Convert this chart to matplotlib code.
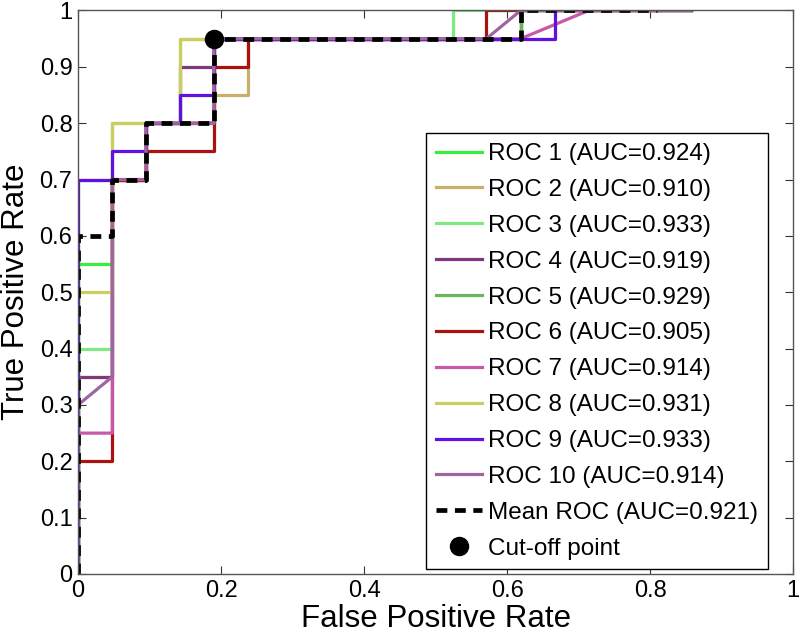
import matplotlib
matplotlib.use("Agg")
import matplotlib.pyplot as plt

plt.rcParams['font.family'] = ['Liberation Sans', 'DejaVu Sans']

# ROC curves (fpr steps of 1/21, tpr steps of 0.05)
roc1_fpr = [0, 0, 0.048, 0.048, 0.095, 0.095, 0.19, 0.19, 0.619, 0.619, 0.857]
roc1_tpr = [0, 0.55, 0.55, 0.7, 0.7, 0.8, 0.8, 0.95, 0.95, 1, 1]
roc2_fpr = [0, 0, 0.048, 0.048, 0.095, 0.095, 0.19, 0.19, 0.238, 0.238, 0.619, 0.619, 0.857]
roc2_tpr = [0, 0.35, 0.35, 0.7, 0.7, 0.8, 0.8, 0.85, 0.85, 0.95, 0.95, 1, 1]
roc3_fpr = [0, 0, 0.048, 0.048, 0.143, 0.143, 0.524, 0.524, 0.857]
roc3_tpr = [0, 0.4, 0.4, 0.8, 0.8, 0.95, 0.95, 1, 1]
roc4_fpr = [0, 0, 0.048, 0.048, 0.095, 0.095, 0.143, 0.143, 0.19, 0.19, 0.619, 0.619, 0.857]
roc4_tpr = [0, 0.35, 0.35, 0.7, 0.7, 0.8, 0.8, 0.9, 0.9, 0.95, 0.95, 1, 1]
roc5_fpr = [0, 0, 0.095, 0.095, 0.19, 0.19, 0.619, 0.619, 0.857]
roc5_tpr = [0, 0.7, 0.7, 0.8, 0.8, 0.95, 0.95, 1, 1]
roc6_fpr = [0, 0, 0.048, 0.048, 0.095, 0.095, 0.19, 0.19, 0.238, 0.238, 0.571, 0.571, 0.857]
roc6_tpr = [0, 0.2, 0.2, 0.7, 0.7, 0.75, 0.75, 0.9, 0.9, 0.95, 0.95, 1, 1]
roc7_fpr = [0, 0, 0.048, 0.048, 0.095, 0.095, 0.19, 0.19, 0.619, 0.714, 0.857]
roc7_tpr = [0, 0.25, 0.25, 0.7, 0.7, 0.8, 0.8, 0.95, 0.95, 1, 1]
roc8_fpr = [0, 0, 0.048, 0.048, 0.143, 0.143, 0.667, 0.667, 0.857]
roc8_tpr = [0, 0.5, 0.5, 0.8, 0.8, 0.95, 0.95, 1, 1]
roc9_fpr = [0, 0, 0.048, 0.048, 0.095, 0.095, 0.143, 0.143, 0.19, 0.19, 0.667, 0.667, 0.857]
roc9_tpr = [0, 0.7, 0.7, 0.75, 0.75, 0.8, 0.8, 0.85, 0.85, 0.95, 0.95, 1, 1]
roc10_fpr = [0, 0, 0.048, 0.048, 0.095, 0.095, 0.19, 0.19, 0.571, 0.619, 0.857]
roc10_tpr = [0, 0.3, 0.35, 0.7, 0.7, 0.8, 0.8, 0.95, 0.95, 1, 1]

mean_fpr = [0, 0, 0.048, 0.048, 0.095, 0.095, 0.19, 0.19, 0.619, 0.619, 0.81]
mean_tpr = [0, 0.6, 0.6, 0.7, 0.7, 0.8, 0.8, 0.95, 0.95, 1, 1]

aucs = [0.924, 0.910, 0.933, 0.919, 0.929, 0.905, 0.914, 0.931, 0.933, 0.914]
mean_auc = 0.921
cutoff_fpr = 0.19
cutoff_tpr = 0.95

curves = [(roc1_fpr, roc1_tpr), (roc2_fpr, roc2_tpr), (roc3_fpr, roc3_tpr),
          (roc4_fpr, roc4_tpr), (roc5_fpr, roc5_tpr), (roc6_fpr, roc6_tpr),
          (roc7_fpr, roc7_tpr), (roc8_fpr, roc8_tpr), (roc9_fpr, roc9_tpr),
          (roc10_fpr, roc10_tpr)]
colors = ['#3cec3c', '#c8b06c', '#80e880', '#7c3a7c', '#68b85a',
          '#aa1111', '#c858a8', '#cccc60', '#6010e0', '#a064a0']

fig = plt.figure(figsize=(8, 6.36), dpi=100)
ax = fig.add_axes([0.0975, 0.0975, 0.894, 0.886])

for i, (fpr, tpr) in enumerate(curves):
    ax.plot(fpr, tpr, color=colors[i], lw=2.3,
            label='ROC %d (AUC=%.3f)' % (i + 1, aucs[i]))
ax.plot(mean_fpr, mean_tpr, color='black', lw=3.4, dashes=(2.3, 1.6),
        label='Mean ROC (AUC=%.3f)' % mean_auc)
ax.plot([cutoff_fpr], [cutoff_tpr], 'o', color='black', markersize=13,
        linestyle='none', label='Cut-off point')

ax.set_xlim(0, 1)
ax.set_ylim(0, 1)
xt = [0, 0.2, 0.4, 0.6, 0.8, 1]
yt = [i / 10 for i in range(11)]
ax.set_xticks(xt)
ax.set_xticklabels(['0', '0.2', '0.4', '0.6', '0.8', '1'])
ax.set_yticks(yt)
ax.set_yticklabels(['0'] + ['%.1f' % v for v in yt[1:-1]] + ['1'])
ax.tick_params(direction='in', length=6, width=0.8, top=True, right=True,
               labelsize=17, pad=4, color='#333333')
for s in ax.spines.values():
    s.set_color('#555555')
    s.set_linewidth(1.0)

ax.set_xlabel('False Positive Rate', fontsize=22.5, labelpad=2)
ax.set_ylabel('True Positive Rate', fontsize=22.5, labelpad=6)

leg = ax.legend(loc='upper right', bbox_to_anchor=(0.965, 0.782),
                fontsize=17.5, handlelength=1.9, handletextpad=0.25,
                labelspacing=0.57, borderpad=0.4, borderaxespad=0,
                fancybox=False, edgecolor='black', framealpha=1)
leg.get_frame().set_linewidth(1.0)

fig.savefig('out.png', dpi=100)
